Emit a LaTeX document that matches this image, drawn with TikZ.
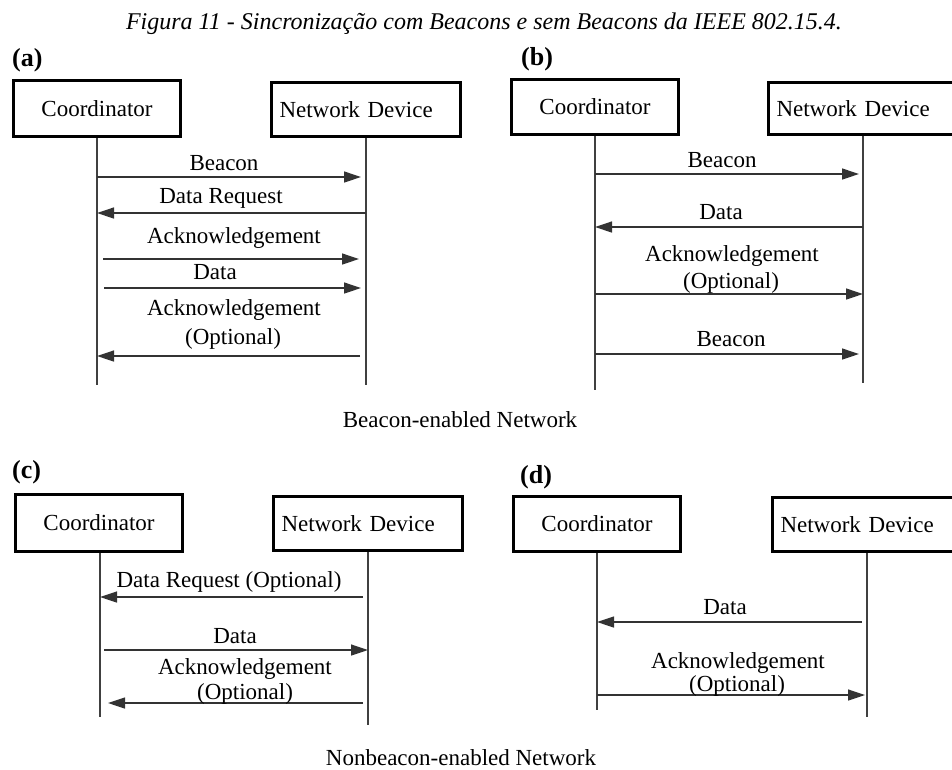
\documentclass[tikz,border=0pt]{standalone}
\usepackage{fontspec}
\setmainfont{Liberation Serif}
\usetikzlibrary{arrows.meta}
\begin{document}
\begin{tikzpicture}[x=1pt,y=-1pt,
  box/.style={draw=black, line width=3.3pt, fill=white, minimum width=167pt, minimum height=56pt, inner sep=0pt, font=\fontsize{23}{27}\selectfont},
  ndbox/.style={box, text width=173pt, align=left, inner xsep=8pt},
  life/.style={draw=black!75, line width=1.3pt},
  msg/.style={draw=black!80, line width=1.3pt, -{Triangle[length=17pt,width=11pt]}},
  lbl/.style={font=\fontsize{23}{27}\selectfont, anchor=base, inner sep=0pt},
  panel/.style={font=\bfseries\fontsize{26}{30}\selectfont, anchor=base west, inner sep=0pt},
  titletext/.style={font=\itshape\fontsize{24}{28}\selectfont, anchor=base, inner sep=0pt}]
\useasboundingbox (0,0) rectangle (952,769);
\clip (0,0) rectangle (952,769);

\node[titletext] (title) at (484,29) {Figura 11 - Sincronização com Beacons e sem Beacons da IEEE 802.15.4.};

% ---------------- (a)
\node[panel] (pa) at (12,66) {(a)};
\node[box, minimum height=56pt] (aC) at (97,108.5) {Coordinator};
\node[ndbox, minimum height=54pt] (aN) at (366,109.5) {Network Device};
\coordinate (aCe) at (97,385);
\coordinate (aNe) at (366,385);
\draw[life] (aC.south) -- (aCe);
\draw[life] (aN.south) -- (aNe);
\coordinate (a1s) at (97,177);  \coordinate (a1e) at (361,177);
\coordinate (a2s) at (366,213); \coordinate (a2e) at (97,213);
\coordinate (a3s) at (103,259); \coordinate (a3e) at (359,259);
\coordinate (a4s) at (104,288); \coordinate (a4e) at (361,288);
\coordinate (a5s) at (360,356); \coordinate (a5e) at (97,356);
\draw[msg] (a1s) -- (a1e);
\draw[msg] (a2s) -- (a2e);
\draw[msg] (a3s) -- (a3e);
\draw[msg] (a4s) -- (a4e);
\draw[msg] (a5s) -- (a5e);
\node[lbl] (a1l) at (224,170) {Beacon};
\node[lbl] (a2l) at (221,203) {Data Request};
\node[lbl] (a3l) at (234,243) {Acknowledgement};
\node[lbl] (a4l) at (215,279) {Data};
\node[lbl] (a5l) at (234,315) {Acknowledgement};
\node[lbl] (a5m) at (233,344) {(Optional)};

% ---------------- (b)
\node[panel] (pb) at (521,65) {(b)};
\node[box, minimum height=55pt] (bC) at (595,107) {Coordinator};
\node[ndbox, minimum height=52pt] (bN) at (863,108.5) {Network Device};
\coordinate (bCe) at (595,390);
\coordinate (bNe) at (863,383);
\draw[life] (bC.south) -- (bCe);
\draw[life] (bN.south) -- (bNe);
\coordinate (b1s) at (595,174); \coordinate (b1e) at (859,174);
\coordinate (b2s) at (863,227); \coordinate (b2e) at (595,227);
\coordinate (b3s) at (595,294); \coordinate (b3e) at (863,294);
\coordinate (b4s) at (595,354); \coordinate (b4e) at (859,354);
\draw[msg] (b1s) -- (b1e);
\draw[msg] (b2s) -- (b2e);
\draw[msg] (b3s) -- (b3e);
\draw[msg] (b4s) -- (b4e);
\node[lbl] (b1l) at (722,167) {Beacon};
\node[lbl] (b2l) at (721,219) {Data};
\node[lbl] (b3l) at (732,261) {Acknowledgement};
\node[lbl] (b3m) at (731,288) {(Optional)};
\node[lbl] (b4l) at (731,346) {Beacon};

\node[lbl] (net1) at (460,427) {Beacon-enabled Network};

% ---------------- (c)
\node[panel] (pc) at (12,478) {(c)};
\node[box, minimum height=57pt] (cC) at (99,523) {Coordinator};
\node[ndbox, minimum height=54pt] (cN) at (368,523.5) {Network Device};
\coordinate (cCe) at (100,717);
\coordinate (cNe) at (368,725);
\draw[life] (cC.south -| cCe) -- (cCe);
\draw[life] (cN.south) -- (cNe);
\coordinate (c1s) at (363,597); \coordinate (c1e) at (100,597);
\coordinate (c2s) at (104,650); \coordinate (c2e) at (368,650);
\coordinate (c3s) at (363,703); \coordinate (c3e) at (108,703);
\draw[msg] (c1s) -- (c1e);
\draw[msg] (c2s) -- (c2e);
\draw[msg] (c3s) -- (c3e);
\node[lbl] (c1l) at (229,587) {Data Request (Optional)};
\node[lbl] (c2l) at (235,643) {Data};
\node[lbl] (c3l) at (245,674) {Acknowledgement};
\node[lbl] (c3m) at (245,699) {(Optional)};

% ---------------- (d)
\node[panel] (pd) at (520,483) {(d)};
\node[box, minimum height=55pt] (dC) at (597,524) {Coordinator};
\node[ndbox, minimum height=54pt] (dN) at (867,524.5) {Network Device};
\coordinate (dCe) at (597,710);
\coordinate (dNe) at (867,717);
\draw[life] (dC.south) -- (dCe);
\draw[life] (dN.south) -- (dNe);
\coordinate (d1s) at (862,622); \coordinate (d1e) at (597,622);
\coordinate (d2s) at (597,695); \coordinate (d2e) at (865,695);
\draw[msg] (d1s) -- (d1e);
\draw[msg] (d2s) -- (d2e);
\node[lbl] (d1l) at (725,614) {Data};
\node[lbl] (d2l) at (738,668) {Acknowledgement};
\node[lbl] (d2m) at (737,691) {(Optional)};

\node[lbl] (net2) at (461,765) {Nonbeacon-enabled Network};
\end{tikzpicture}
\end{document}
